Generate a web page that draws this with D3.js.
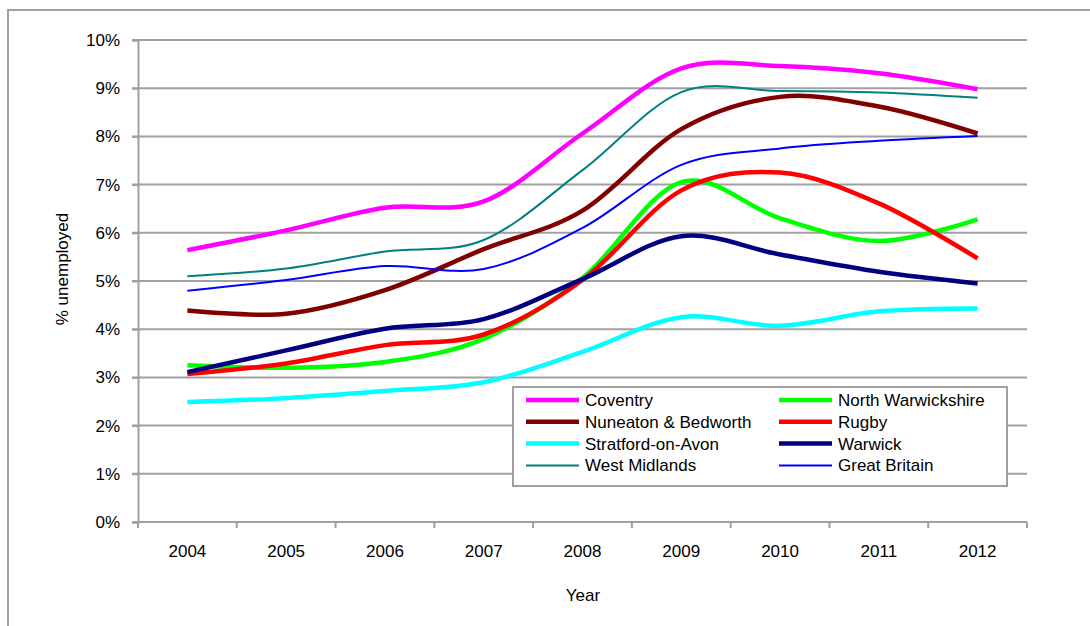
<!DOCTYPE html>
<html>
<head>
<meta charset="utf-8">
<script src="https://cdn.jsdelivr.net/npm/d3@7"></script>
<style>
  body { margin: 0; background: #fff; }
  text { font-family: "Liberation Sans", Arial, sans-serif; fill: #000; }
</style>
</head>
<body>
<svg id="chart" width="1090" height="626"></svg>
<script>
// years on the x axis
let years = ['2004', '2005', '2006', '2007', '2008', '2009', '2010', '2011', '2012'];
let yTicks = [0, 1, 2, 3, 4, 5, 6, 7, 8, 9, 10];

// % unemployed
let coventry      = [5.64, 6.05, 6.52, 6.65, 8.06, 9.41, 9.46, 9.31, 8.98];
let northWarks    = [3.25, 3.20, 3.32, 3.80, 5.06, 7.05, 6.30, 5.83, 6.28];
let nuneaton      = [4.39, 4.32, 4.81, 5.66, 6.46, 8.15, 8.82, 8.62, 8.06];
let rugby         = [3.07, 3.29, 3.67, 3.89, 5.02, 6.88, 7.25, 6.61, 5.47];
let stratford     = [2.49, 2.57, 2.72, 2.90, 3.53, 4.25, 4.07, 4.37, 4.43];
let warwick       = [3.11, 3.56, 4.01, 4.21, 5.04, 5.93, 5.55, 5.19, 4.95];
let westMidlands  = [5.10, 5.26, 5.61, 5.85, 7.30, 8.92, 8.94, 8.91, 8.80];
let greatBritain  = [4.80, 5.02, 5.31, 5.25, 6.10, 7.41, 7.75, 7.91, 8.01];

let series = [
    { name: 'Coventry', values: coventry, color: '#ff00ff', w: 4.5 },
    { name: 'North Warwickshire', values: northWarks, color: '#00ff00', w: 4.5 },
    { name: 'Nuneaton & Bedworth', values: nuneaton, color: '#800000', w: 4.5 },
    { name: 'Rugby', values: rugby, color: '#ff0000', w: 4.5 },
    { name: 'Stratford-on-Avon', values: stratford, color: '#00ffff', w: 4.5 },
    { name: 'Warwick', values: warwick, color: '#000080', w: 4.5 },
    { name: 'West Midlands', values: westMidlands, color: '#008080', w: 2 },
    { name: 'Great Britain', values: greatBritain, color: '#0000ff', w: 2 }
];

let svg = d3.select('#chart');
let grey = '#a0a0a0';

// outer chart frame (only top and left edges fall inside the picture)
svg.append('rect')
    .attr('x', 8).attr('y', 10)
    .attr('width', 1200).attr('height', 800)
    .attr('fill', 'none')
    .attr('stroke', grey)
    .attr('stroke-width', 2);

let plotLeft = 138, plotRight = 1027, plotTop = 40, plotBottom = 522;

let x = d3.scaleBand().domain(years).range([plotLeft, plotRight]);
let y = d3.scaleLinear().domain([0, 10]).range([plotBottom, plotTop]);

// gridlines
svg.append('g')
    .selectAll('line')
    .data(yTicks)
    .enter()
    .append('line')
    .attr('x1', plotLeft - 6).attr('x2', plotRight)
    .attr('y1', d => y(d)).attr('y2', d => y(d))
    .attr('stroke', grey)
    .attr('stroke-width', 2);

// y axis
let yAxis = svg.append('g')
    .attr('transform', 'translate(' + plotLeft + ',0)')
    .call(d3.axisLeft(y).tickValues(yTicks).tickSize(6).tickPadding(12).tickFormat(d => d + '%'));
yAxis.selectAll('line, path').attr('stroke', grey).attr('stroke-width', 2);
yAxis.selectAll('text').style('font-size', '17px').style('font-family', '"Liberation Sans", Arial, sans-serif');

// x axis, ticks at the band edges
let xAxis = svg.append('g')
    .attr('transform', 'translate(0,' + plotBottom + ')')
    .call(d3.axisBottom(x).tickSize(0).tickPadding(23));
xAxis.select('path').attr('stroke', grey).attr('stroke-width', 2).attr('d', 'M' + plotLeft + ',0H' + plotRight);
xAxis.selectAll('text').style('font-size', '17px').style('font-family', '"Liberation Sans", Arial, sans-serif');
xAxis.selectAll('.edge')
    .data(years.concat(['end']))
    .enter()
    .append('line')
    .attr('class', 'edge')
    .attr('x1', (d, i) => plotLeft + i * x.step())
    .attr('x2', (d, i) => plotLeft + i * x.step())
    .attr('y1', 0).attr('y2', 6)
    .attr('stroke', grey)
    .attr('stroke-width', 2);

// axis titles
svg.append('text')
    .attr('x', 583).attr('y', 601)
    .attr('text-anchor', 'middle')
    .style('font-size', '17px')
    .text('Year');

svg.append('text')
    .attr('transform', 'translate(68,269) rotate(-90)')
    .attr('text-anchor', 'middle')
    .style('font-size', '17px')
    .text('% unemployed');

// lines
let line = d3.line()
    .x((d, i) => x(years[i]) + x.bandwidth() / 2)
    .y(d => y(d))
    .curve(d3.curveCardinal.tension(0));

svg.append('g')
    .selectAll('path')
    .data(series)
    .enter()
    .append('path')
    .attr('d', s => line(s.values))
    .attr('fill', 'none')
    .attr('stroke', s => s.color)
    .attr('stroke-width', s => s.w)
    .attr('stroke-linejoin', 'round');

// legend
let legend = svg.append('g');
legend.append('rect')
    .attr('x', 513).attr('y', 387)
    .attr('width', 494).attr('height', 99)
    .attr('fill', '#fff')
    .attr('stroke', grey)
    .attr('stroke-width', 2);

let item = legend.selectAll('.item')
    .data(series)
    .enter()
    .append('g')
    .attr('class', 'item')
    .attr('transform', (s, i) => 'translate(' + (i % 2 === 0 ? 526 : 779) + ',' + (400 + Math.floor(i / 2) * 21.8) + ')');

item.append('line')
    .attr('x1', 0).attr('x2', 53)
    .attr('y1', 0).attr('y2', 0)
    .attr('stroke', s => s.color)
    .attr('stroke-width', s => s.w);

item.append('text')
    .attr('x', 59).attr('y', 6)
    .style('font-size', '17px')
    .text(s => s.name);
</script>
</body>
</html>
